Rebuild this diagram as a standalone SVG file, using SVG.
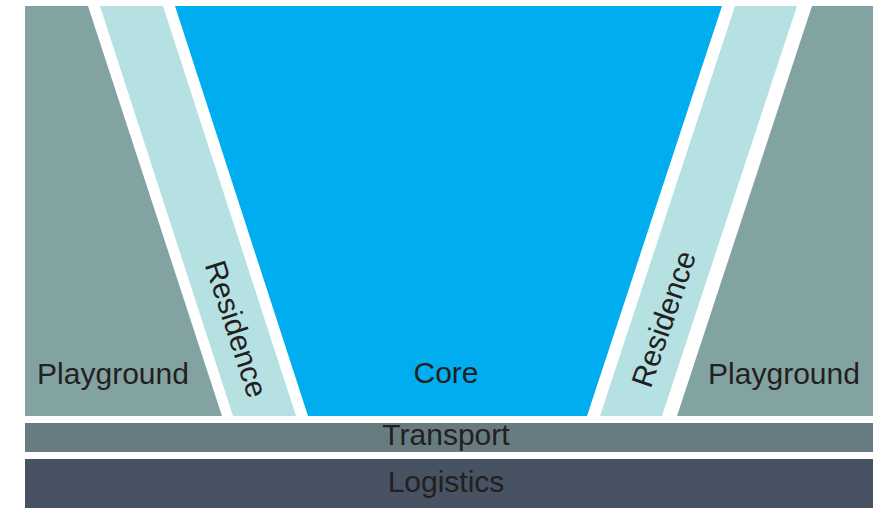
<svg xmlns="http://www.w3.org/2000/svg" width="875" height="508" viewBox="0 0 875 508">
<style>
.lbl{font-family:"Liberation Sans",Arial,Helvetica,sans-serif;font-size:30px;fill:#231F20;text-anchor:middle}
.play{fill:#82A3A2}
.res{fill:#B5E1E3}
.core{fill:#00AEEF}
</style>
<rect width="875" height="508" fill="#FFFFFF"/>
<g id="playground-left">
<polygon class="play" points="25,6 88,6 222,416 25,416"/>
<text class="lbl" x="113" y="384">Playground</text>
</g>
<g id="residence-left">
<polygon class="res" points="100,6 163,6 296,416 233,416"/>
<text class="lbl" transform="translate(236,329) rotate(72)" x="0" y="10">Residence</text>
</g>
<g id="core">
<polygon class="core" points="175,6 722,6 587,416 308,416"/>
<text class="lbl" x="446" y="383">Core</text>
</g>
<g id="residence-right">
<polygon class="res" points="735,6 797,6 662,416 600,416"/>
<text class="lbl" transform="translate(664,319) rotate(-71)" x="0" y="10">Residence</text>
</g>
<g id="playground-right">
<polygon class="play" points="812,6 873,6 873,416 677,416"/>
<text class="lbl" x="784" y="384">Playground</text>
</g>
<g id="transport">
<rect x="25" y="423" width="848" height="29" fill="#667C80"/>
<text class="lbl" x="446" y="445">Transport</text>
</g>
<g id="logistics">
<rect x="25" y="459" width="848" height="49" fill="#475263"/>
<text class="lbl" x="446" y="492">Logistics</text>
</g>
<g id="connectors"></g>
</svg>
